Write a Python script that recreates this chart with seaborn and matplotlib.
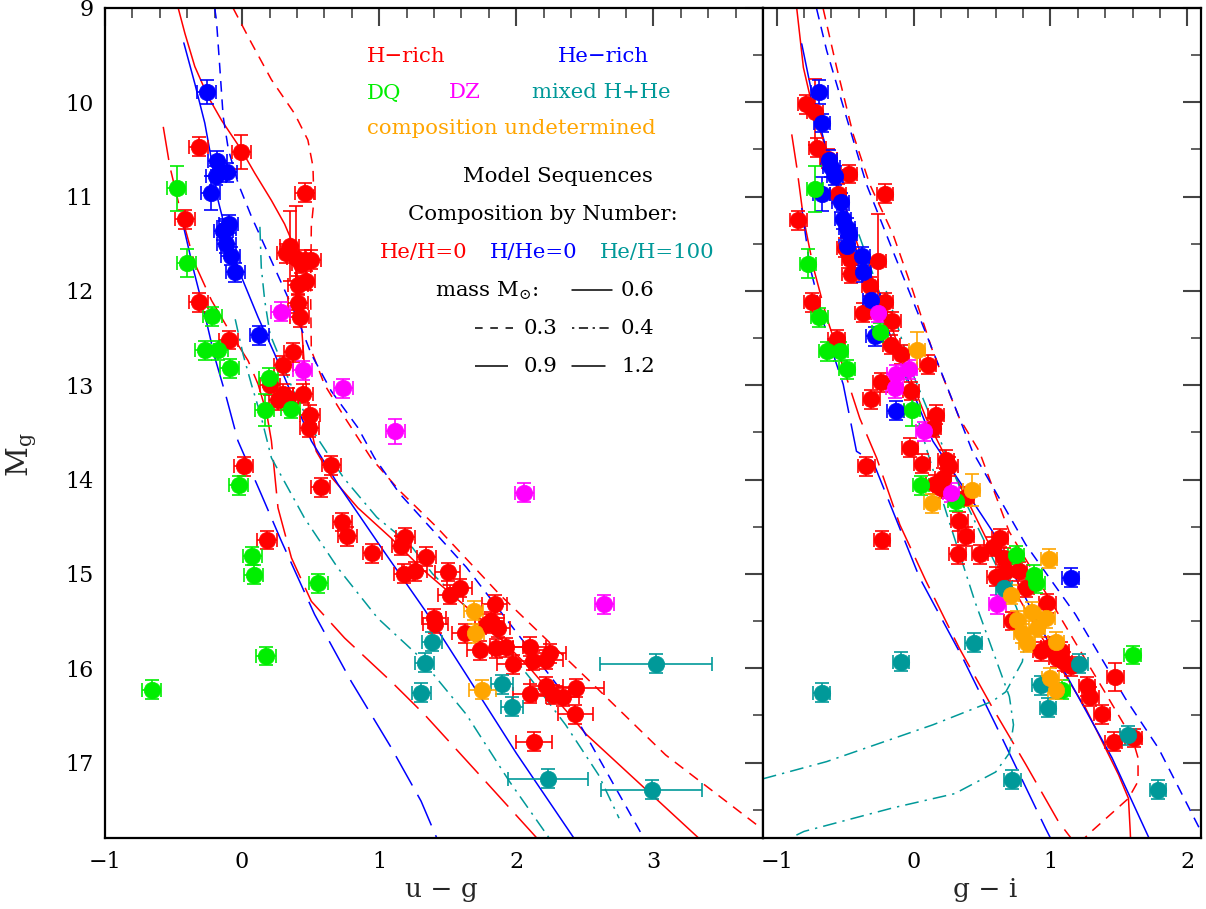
import numpy as np
import pandas as pd
import matplotlib
matplotlib.use("Agg")
import matplotlib.pyplot as plt
from matplotlib.ticker import MultipleLocator
import seaborn as sns

sns.set_theme(style="white")
plt.rcParams['font.family'] = ['DejaVu Serif']
plt.rcParams['mathtext.fontset'] = 'dejavuserif'

# ---------------- colours ----------------
C_H, C_HE, C_DQ, C_DZ, C_MIX, C_UND = '#ff0000', '#0000ff', '#00ee00', '#ff00ff', '#009999', '#ffa500'

# ---------------- data: left panel (u-g, M_g) ----------------
h_ug   = [-0.316,-0.007,0.459,-0.417,0.347,0.323,0.396,0.456,0.505,0.432,0.464,0.408,0.408,0.42,-0.316,-0.097,
          0.374,0.30,0.444,0.204,0.302,0.265,0.338,0.496,0.491,0.012,0.65,0.574,0.73,0.767,0.182,0.949,1.19,1.16,
          1.345,1.18,1.26,1.50,1.587,1.52,1.842,1.40,1.41,1.624,1.786,1.818,1.867,1.733,1.854,1.927,1.976,2.097,
          2.12,2.243,2.218,2.218,2.097,2.267,2.34,2.437,2.432,2.128]
h_ug_M = [10.47,10.53,10.96,11.24,11.52,11.60,11.65,11.67,11.67,11.71,11.89,11.94,12.13,12.28,12.12,12.52,
          12.65,12.79,13.09,13.0,13.09,13.16,13.13,13.31,13.45,13.86,13.85,14.08,14.45,14.6,14.64,14.78,14.61,14.70,
          14.82,15.0,14.97,14.98,15.15,15.22,15.32,15.47,15.53,15.63,15.53,15.5,15.57,15.81,15.79,15.78,15.96,15.77,
          15.92,15.84,15.91,16.19,16.27,16.28,16.3,16.21,16.49,16.78]
h_ug_xe = [0.07]*36 + [0.09]*12 + [0.12]*11 + [0.2, 0.13, 0.13]
h_ug_ye = [0.1,0.18,0.1,0.1,0.37,0.1,0.55,0.1,0.1,0.1] + [0.1]*52

he_ug   = [-0.257,-0.18,-0.107,-0.19,-0.228,-0.114,-0.138,-0.097,-0.114,-0.083,-0.049,0.126]
he_ug_M = [9.89,10.62,10.74,10.78,10.96,11.34,11.36,11.29,11.5,11.63,11.8,12.47]
he_ug_ye = [0.13,0.1,0.1,0.1,0.18,0.1,0.1,0.1,0.1,0.1,0.1,0.1]

dq_ug   = [-0.478,-0.403,-0.218,-0.272,-0.175,-0.09,0.194,0.165,0.355,-0.024,0.075,0.085,0.556,0.175,-0.658]
dq_ug_M = [10.91,11.70,12.27,12.63,12.63,12.82,12.92,13.26,13.25,14.06,14.81,15.01,15.10,15.87,16.23]
dq_ug_ye = [0.24,0.15,0.1,0.1,0.1,0.1,0.1,0.17,0.1,0.1,0.1,0.1,0.1,0.1,0.1]

dz_ug   = [0.282,0.442,0.738,1.117,2.06,2.643]
dz_ug_M = [12.22,12.84,13.03,13.49,14.14,15.32]
dz_ug_ye = [0.1,0.1,0.1,0.13,0.1,0.1]

mix_ug   = [3.02,1.386,1.333,1.308,1.898,1.968,2.23,2.988]
mix_ug_M = [15.95,15.72,15.94,16.26,16.17,16.41,17.17,17.29]
mix_ug_xe = [0.41,0.07,0.07,0.07,0.08,0.08,0.29,0.37]

und_ug   = [1.69,1.697,1.752]
und_ug_M = [15.39,15.63,16.23]
und_ug_xe = [0.07,0.07,0.1]

# ---------------- data: right panel (g-i, M_g) ----------------
h_gi   = [-0.785,-0.72,-0.703,-0.623,-0.473,-0.21,-0.841,-0.55,-0.50,-0.465,-0.46,-0.26,-0.32,-0.744,-0.368,-0.21,
          -0.155,-0.562,-0.162,-0.09,0.104,-0.235,-0.308,-0.017,0.165,0.14,-0.024,0.06,-0.344,0.238,0.262,0.213,
          0.153,0.2,0.383,0.335,0.383,-0.23,0.322,0.487,0.577,0.63,0.662,0.6,0.674,0.77,0.82,0.977,0.722,0.93,0.99,
          1.074,1.098,1.147,1.05,1.268,1.292,1.474,1.377,1.462,1.607]
h_gi_M = [10.02,10.1,10.48,10.6,10.76,10.97,11.25,10.97,11.54,11.66,11.82,11.68,11.95,12.12,12.23,12.12,
          12.32,12.51,12.57,12.67,12.78,12.97,13.15,13.06,13.31,13.45,13.66,13.83,13.86,13.79,13.86,13.98,
          14.05,14.09,14.18,14.44,14.6,14.64,14.79,14.79,14.71,14.62,14.83,15.03,14.97,14.97,15.15,15.31,15.5,15.82,15.77,
          15.82,15.93,15.98,15.89,16.19,16.3,16.09,16.49,16.78,16.74]
h_gi_ye = [0.1,0.35,0.1,0.1,0.1,0.1,0.1,0.1,0.1,0.1,0.1,0.5] + [0.1]*45 + [0.15,0.1,0.1,0.1]

he_gi   = [-0.688,-0.667,-0.618,-0.6,-0.575,-0.672,-0.533,-0.514,-0.485,-0.47,-0.485,-0.38,-0.368,-0.308,-0.284,-0.131,1.147]
he_gi_M = [9.89,10.22,10.61,10.69,10.78,10.97,11.06,11.24,11.33,11.4,11.52,11.63,11.8,12.1,12.48,13.27,15.04]
he_gi_ye = [0.13,0.1,0.1,0.1,0.1,0.18] + [0.1]*11

dq_gi   = [-0.72,-0.773,-0.688,-0.63,-0.538,-0.485,-0.247,-0.01,0.056,0.31,0.747,0.88,0.897,1.6,1.086]
dq_gi_M = [10.92,11.71,12.28,12.64,12.64,12.83,12.44,13.26,14.06,14.23,14.8,15.01,15.1,15.86,16.23]
dq_gi_ye = [0.24,0.15,0.1,0.1,0.1,0.1,0.1,0.17,0.1,0.1,0.1,0.1,0.1,0.1,0.1]

dz_gi   = [-0.26,-0.131,-0.034,-0.138,0.075,0.274,0.613]
dz_gi_M = [12.23,12.88,12.83,13.03,13.49,14.14,15.32]

mix_gi   = [-0.672,-0.092,0.439,0.662,1.212,0.928,0.984,1.566,0.722,1.784]
mix_gi_M = [16.26,15.93,15.73,15.15,15.95,16.18,16.42,16.71,17.18,17.29]

und_gi   = [0.024,0.424,0.136,0.99,0.71,0.868,0.97,0.759,0.795,0.83,1.04,0.9,1.0,1.04]
und_gi_M = [12.63,14.11,14.25,14.84,15.22,15.4,15.47,15.49,15.63,15.73,15.72,15.57,16.1,16.23]
und_gi_ye = [0.2,0.17] + [0.1]*12

# ---------------- model sequences: left panel (u-g) ----------------
ug_H06_x = [-0.466,-0.417,-0.345,-0.248,-0.15,-0.007,0.092,0.214,0.31,0.36,0.40,0.43,0.46,0.50,0.541,0.654,0.845,1.087,1.33,1.757,2.1,2.51,3.33]
ug_H06_y = [9.0,9.27,9.62,9.94,10.19,10.5,10.75,11.04,11.29,11.46,11.8,12.3,12.9,13.45,13.7,13.98,14.3,14.62,14.97,15.5,16.0,16.7,17.8]
ug_H03_x = [-0.066,0.068,0.214,0.383,0.48,0.517,0.524,0.505,0.50,0.505,0.60,0.748,0.94,1.15,1.417,1.88,2.51,3.09,3.79]
ug_H03_y = [9.0,9.37,9.76,10.12,10.4,10.68,11.04,11.32,12.0,12.63,12.99,13.34,13.77,14.12,14.5,15.22,16.1,16.92,17.7]
ug_H12_x = [-0.575,-0.527,-0.44,-0.345,-0.223,-0.078,0.044,0.117,0.18,0.214,0.262,0.36,0.505,0.748,1.087,1.33,1.757,2.15]
ug_H12_y = [10.26,10.68,11.21,11.71,12.1,12.46,12.74,12.99,13.3,13.59,14.3,14.83,15.29,15.68,16.14,16.49,17.17,17.8]
ug_He06_x = [-0.425,-0.345,-0.272,-0.223,-0.175,-0.102,-0.005,0.117,0.238,0.36,0.505,0.7,1.015,1.336,1.636,2.0,2.42]
ug_He06_y = [9.37,9.8,10.22,10.61,11.04,11.46,11.85,12.28,12.67,13.09,13.59,14.05,14.72,15.39,16.07,16.9,17.8]
ug_He03_x = [-0.2,-0.187,-0.163,-0.138,-0.1,-0.029,0.068,0.189,0.31,0.408,0.505,0.65,0.845,0.966,1.15,1.636,2.315,2.93]
ug_He03_y = [9.0,9.13,9.62,10.15,10.5,10.86,11.21,11.6,11.99,12.31,12.67,13.06,13.45,13.77,14.15,14.93,16.21,17.8]
ug_He12_x = [-0.43,-0.35,-0.28,-0.2,-0.12,-0.03,0.141,0.286,0.529,0.796,1.087,1.306,1.42]
ug_He12_y = [11.3,11.8,12.2,12.7,13.1,13.59,14.16,14.65,15.43,16.14,16.84,17.41,17.8]
ug_Mx1_x = [0.13,0.14,0.165,0.204,0.375,0.545,0.74,0.983,1.226,1.39,1.88,2.12,2.36,2.6,2.75]
ug_Mx1_y = [11.32,11.75,12.1,12.46,13.06,13.55,13.98,14.4,14.69,15.0,15.7,16.14,16.6,17.13,17.59]
ug_Mx2_x = [-0.05,0.007,0.068,0.14,0.214,0.456,0.7,0.99,1.28,1.636,1.95,2.24]
ug_Mx2_y = [12.3,12.67,12.99,13.34,13.77,14.41,14.94,15.47,15.86,16.49,17.2,17.8]

# ---------------- model sequences: right panel (g-i) ----------------
gi_H06_x = [-0.853,-0.805,-0.732,-0.635,-0.514,-0.393,-0.223,-0.1,0.092,0.383,0.625,0.94,1.256,1.498,1.57,1.583,1.585]
gi_H06_y = [9.01,9.63,10.09,10.51,11.04,11.58,12.1,12.64,13.35,14.19,14.9,15.68,16.42,17.13,17.38,17.73,17.8]
gi_H03_x = [-0.66,-0.562,-0.441,-0.32,-0.15,-0.005,0.14,0.335,0.48,0.698,1.06,1.425,1.60,1.64,1.64,1.57,1.30,1.25]
gi_H03_y = [9.01,9.63,10.34,10.87,11.4,12.0,12.64,13.35,13.7,14.55,15.43,16.32,16.75,16.95,17.2,17.38,17.73,17.8]
gi_H12_x = [-0.89,-0.853,-0.805,-0.732,-0.635,-0.514,-0.393,-0.27,-0.1,0.092,0.335,0.577,0.82,1.06,1.15]
gi_H12_y = [10.34,10.69,11.22,11.75,12.28,12.81,13.35,13.77,14.48,15.08,15.79,16.42,17.02,17.63,17.8]
gi_He06_x = [-0.817,-0.732,-0.635,-0.465,-0.27,-0.078,0.14,0.577,0.892,1.183,1.45,1.72]
gi_He06_y = [9.38,9.98,10.51,11.4,12.1,12.81,13.59,14.55,15.47,16.25,16.95,17.8]
gi_He03_x = [-0.708,-0.635,-0.49,-0.344,-0.15,0.044,0.238,0.43,0.82,1.183,1.547,1.79,2.1]
gi_He03_y = [9.01,9.45,10.16,10.87,11.58,12.28,12.99,13.7,14.69,15.43,16.32,16.85,17.73]
gi_He12_x = [-0.817,-0.756,-0.635,-0.514,-0.417,-0.296,0.044,0.359,0.6,0.965,1.0]
gi_He12_y = [11.12,11.75,12.46,12.99,13.7,13.81,15.04,15.89,16.6,17.7,17.8]
gi_Mx1_x = [-0.40,-0.27,-0.15,0.0,0.1,0.25,0.45,0.6,0.7,0.73,0.70,0.60,0.30,-0.15,-0.8,-0.9]
gi_Mx1_y = [11.4,11.93,12.46,13.2,13.7,14.4,15.3,15.9,16.3,16.6,16.9,17.1,17.33,17.48,17.73,17.8]
gi_Mx2_x = [-0.2,0.0,0.2,0.4,0.6,0.75,0.82,0.795,0.674,0.577,0.141,-0.635,-1.12]
gi_Mx2_y = [12.0,12.9,13.6,14.3,14.9,15.35,15.64,15.93,16.25,16.35,16.6,16.99,17.18]

# ---------------- figure ----------------
W, H = 1206, 909
fig = plt.figure(figsize=(W/100, H/100), dpi=100)
bot = 1 - 838/H
hgt = 830/H
ax1 = fig.add_axes([105/W, bot, 658/W, hgt])
ax2 = fig.add_axes([763/W, bot, 438/W, hgt])

LS_SHORT = (0, (7, 5))
LS_LONG = (0, (22, 7))
LS_DD = (0, (9, 4, 1.5, 4))
LW = 1.1

def curve(ax, x, y, color, ls):
    d = pd.DataFrame({'x': x, 'y': y})
    sns.lineplot(data=d, x='x', y='y', ax=ax, sort=False, estimator=None,
                 color=color, lw=LW, linestyle=ls, legend=False)

for ax, curves in [
    (ax1, [(ug_H06_x, ug_H06_y, C_H, '-'), (ug_H03_x, ug_H03_y, C_H, LS_SHORT), (ug_H12_x, ug_H12_y, C_H, LS_LONG),
           (ug_He06_x, ug_He06_y, C_HE, '-'), (ug_He03_x, ug_He03_y, C_HE, LS_SHORT), (ug_He12_x, ug_He12_y, C_HE, LS_LONG),
           (ug_Mx1_x, ug_Mx1_y, C_MIX, LS_DD), (ug_Mx2_x, ug_Mx2_y, C_MIX, LS_DD)]),
    (ax2, [(gi_H06_x, gi_H06_y, C_H, '-'), (gi_H03_x, gi_H03_y, C_H, LS_SHORT), (gi_H12_x, gi_H12_y, C_H, LS_LONG),
           (gi_He06_x, gi_He06_y, C_HE, '-'), (gi_He03_x, gi_He03_y, C_HE, LS_SHORT), (gi_He12_x, gi_He12_y, C_HE, LS_LONG),
           (gi_Mx1_x, gi_Mx1_y, C_MIX, LS_DD), (gi_Mx2_x, gi_Mx2_y, C_MIX, LS_DD)])]:
    for x, y, c, ls in curves:
        curve(ax, x, y, c, ls)

def pts(ax, x, y, color, xe=None, ye=None, dxe=0.07, dye=0.1):
    n = len(x)
    xe = xe if xe is not None else [dxe]*n
    ye = ye if ye is not None else [dye]*n
    ax.errorbar(x, y, xerr=xe, yerr=ye, fmt='none', ecolor=color, elinewidth=1.4,
                capsize=5, capthick=1.4, alpha=0.85, zorder=3)
    d = pd.DataFrame({'x': x, 'y': y})
    sns.scatterplot(data=d, x='x', y='y', ax=ax, color=color, s=140, edgecolor=color,
                    linewidth=0.5, legend=False, zorder=4)

pts(ax1, h_ug, h_ug_M, C_H, h_ug_xe, h_ug_ye)
pts(ax1, he_ug, he_ug_M, C_HE, None, he_ug_ye)
pts(ax1, dq_ug, dq_ug_M, C_DQ, None, dq_ug_ye)
pts(ax1, dz_ug, dz_ug_M, C_DZ, None, dz_ug_ye)
pts(ax1, mix_ug, mix_ug_M, C_MIX, mix_ug_xe, None)
pts(ax1, und_ug, und_ug_M, C_UND, und_ug_xe, None)

pts(ax2, h_gi, h_gi_M, C_H, None, h_gi_ye, dxe=0.06)
pts(ax2, he_gi, he_gi_M, C_HE, None, he_gi_ye, dxe=0.06)
pts(ax2, dq_gi, dq_gi_M, C_DQ, None, dq_gi_ye, dxe=0.06)
pts(ax2, dz_gi, dz_gi_M, C_DZ, None, None, dxe=0.06)
pts(ax2, mix_gi, mix_gi_M, C_MIX, None, None, dxe=0.06)
pts(ax2, und_gi, und_gi_M, C_UND, None, und_gi_ye, dxe=0.06)

# ---------------- axes styling ----------------
for ax, xlim in [(ax1, (-1.0, 3.8)), (ax2, (-1.1, 2.1))]:
    ax.set_xlim(*xlim)
    ax.set_ylim(17.8, 9.0)
    ax.xaxis.set_major_locator(MultipleLocator(1))
    ax.xaxis.set_minor_locator(MultipleLocator(0.2))
    ax.yaxis.set_major_locator(MultipleLocator(1))
    ax.yaxis.set_minor_locator(MultipleLocator(0.5))
    ax.tick_params(which='both', direction='in', top=True, right=True, colors='#444444',
                   labelcolor='black', labelsize=16)
    ax.tick_params(which='major', length=13, width=1.5)
    ax.tick_params(which='minor', length=7, width=1.2)
    for s in ax.spines.values():
        s.set_color('black')
        s.set_linewidth(1.6)
    ax.set_xlabel('')
    ax.set_ylabel('')
    ax.grid(False)

ax2.tick_params(axis='y', labelleft=False)
ax1.set_yticks([9, 10, 11, 12, 13, 14, 15, 16, 17])
ax1.set_yticklabels(['9', '10', '11', '12', '13', '14', '15', '16', '17'])
ax1.set_xticks([-1, 0, 1, 2, 3])
ax1.set_xticklabels(['\u22121', '0', '1', '2', '3'])
ax2.set_xticks([-1, 0, 1, 2])
ax2.set_xticklabels(['\u22121', '0', '1', '2'])
ax1.tick_params(axis='x', pad=9)
ax2.tick_params(axis='x', pad=9)
ax1.tick_params(axis='y', pad=8)

fig.text(441/W, 1-889/H, 'u \u2212 g', fontsize=19, ha='center', va='center')
fig.text(985/W, 1-889/H, 'g \u2212 i', fontsize=19, ha='center', va='center')
fig.text(22/W, 1-455/H, r'$\mathrm{M_g}$', fontsize=21, ha='center', va='center', rotation=90)

# ---------------- key text ----------------
def t(px, py, s, c='black', ha='left'):
    fig.text(px/W, 1-py/H, s, color=c, fontsize=15.3, ha=ha, va='center')

t(367, 56, 'H\u2212rich', C_H)
t(558, 56, 'He\u2212rich', C_HE)
t(367, 93, 'DQ', C_DQ)
t(449, 93, 'DZ', C_DZ)
t(532, 93, 'mixed H+He', C_MIX)
t(367, 129, 'composition undetermined', C_UND)
t(558, 176, 'Model Sequences', ha='center')
t(543, 214, 'Composition by Number:', ha='center')
t(380, 252, 'He/H=0', C_H)
t(490, 252, 'H/He=0', C_HE)
t(600, 252, 'He/H=100', C_MIX)
t(435, 291, r'mass M$_{\odot}$:')
t(621, 291, '0.6')
t(524, 328, '0.3')
t(621, 328, '0.4')
t(524, 366, '0.9')
t(621, 366, '1.2')

# legend line samples (figure coordinates)
def seg(x0, x1, py, ls):
    fig.add_artist(plt.Line2D([x0/W, x1/W], [1-py/H, 1-py/H], color='black', lw=1.1, linestyle=ls))
seg(572, 612, 290, '-')
seg(475, 513, 328, (0, (5, 5)))
seg(572, 612, 328, (0, (1.5, 3, 6, 3)))
seg(475, 508, 366, (0, (24, 3, 1, 3)))
seg(572, 605, 366, '-')

fig.savefig('out.png', dpi=100)
